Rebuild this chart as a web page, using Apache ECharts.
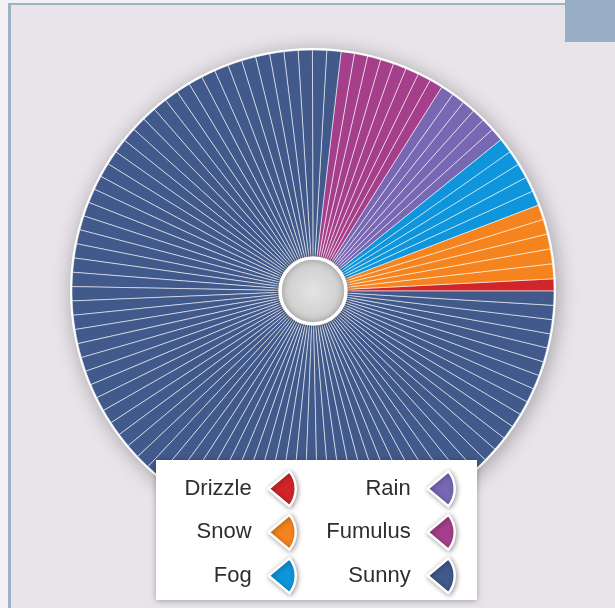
<!DOCTYPE html>
<html>
<head>
<meta charset="utf-8">
<script src="https://cdn.jsdelivr.net/npm/echarts@6/dist/echarts.min.js"></script>
<style>
html,body{margin:0;padding:0;background:#f3f1f4;}
#main{width:615px;height:608px;}
</style>
</head>
<body>
<div id="main"></div>
<script>
// Categories (legend order) and colours
const categories = ['Drizzle', 'Snow', 'Fog', 'Rain', 'Fumulus', 'Sunny'];
const colors = ['#cf252b', '#f5841f', '#0e95db', '#7868b4', '#a53f8b', '#415a8b'];

// Per-slice values (each thin wedge is one item)
const drizzle = [2.9];
const snow = [3.6, 3.6, 3.6, 3.6, 3.6];
const fog = [3.6, 3.6, 3.6, 3.6, 3.6];
const rain = [3.15, 3.15, 3.15, 3.15, 3.15, 3.15];
const fumulus = [3.2, 3.2, 3.2, 3.2, 3.2, 3.2, 3.2, 3.2];
const sunny = [
  3.42, 3.42, 3.42, 3.42, 3.42, 3.42, 3.42, 3.42, 3.42, 3.42,
  3.42, 3.42, 3.42, 3.42, 3.42, 3.42, 3.42, 3.42, 3.42, 3.42,
  3.42, 3.42, 3.42, 3.42, 3.42, 3.42, 3.42, 3.42, 3.42, 3.42,
  3.42, 3.42, 3.42, 3.42, 3.42, 3.42, 3.42, 3.42, 3.42, 3.42,
  3.42, 3.42, 3.42, 3.42, 3.42, 3.42, 3.42, 3.42, 3.42, 3.42,
  3.42, 3.42, 3.42, 3.42, 3.42, 3.42, 3.42, 3.42, 3.42, 3.42,
  3.42, 3.42, 3.42, 3.42, 3.42, 3.42, 3.42, 3.42, 3.42, 3.42,
  3.42, 3.42, 3.42, 3.42, 3.42, 3.42, 3.42, 3.42, 3.42, 3.42,
  3.42
];
const seriesValues = [drizzle, snow, fog, rain, fumulus, sunny];

const leftLegend = ['Drizzle', 'Snow', 'Fog'];
const rightLegend = ['Rain', 'Fumulus', 'Sunny'];

const pieData = [];
seriesValues.forEach(function (vals, ci) {
  vals.forEach(function (v) {
    pieData.push({ name: categories[ci], value: v, itemStyle: { color: colors[ci] } });
  });
});

const sectorIcon = 'path://M0,0 L76.6,-64.3 A100,100 0 0 1 76.6,64.3 Z';
const FONT = '"Liberation Sans", Arial, sans-serif';

function legendOpt(names, right) {
  return {
    data: names,
    orient: 'vertical',
    align: 'right',
    right: right,
    top: 470,
    padding: 0,
    itemWidth: 29,
    itemHeight: 35,
    itemGap: 6,
    icon: sectorIcon,
    selectedMode: false,
    z: 20,
    textStyle: { fontSize: 22, color: '#2e2e2e', fontFamily: FONT, padding: [0, 11, 0, 0] },
    itemStyle: { borderColor: '#fff', borderWidth: 2.5, shadowBlur: 5, shadowColor: 'rgba(0,0,0,0.35)', shadowOffsetX: 1, shadowOffsetY: 1 }
  };
}

const chart = echarts.init(document.getElementById('main'));
chart.setOption({
  animation: false,
  backgroundColor: '#e8e4ea',
  graphic: {
    elements: [
      { type: 'rect', z: 1, silent: true, shape: { x: 0, y: 0, width: 615, height: 3 }, style: { fill: '#f3f1f4' } },
      { type: 'rect', z: 1, silent: true, shape: { x: 0, y: 0, width: 8, height: 608 }, style: { fill: '#f3f1f4' } },
      { type: 'rect', z: 1, silent: true, shape: { x: 8, y: 3, width: 600, height: 2 }, style: { fill: '#9cb2c7' } },
      { type: 'rect', z: 1, silent: true, shape: { x: 8, y: 3, width: 3, height: 605 }, style: { fill: '#9cb2c7' } },
      { type: 'rect', z: 1, silent: true, shape: { x: 565, y: 0, width: 50, height: 42 }, style: { fill: '#98aec4' } },
      { type: 'rect', z: 10, silent: true, shape: { x: 156, y: 460, width: 321, height: 140 },
        style: { fill: '#ffffff', shadowBlur: 6, shadowColor: 'rgba(0,0,0,0.3)', shadowOffsetY: 1 } }
    ]
  },
  legend: [legendOpt(leftLegend, 318), legendOpt(rightLegend, 159)],
  series: [
    {
      name: 'rim', type: 'pie', z: 2, silent: true,
      center: [313, 291], radius: [0, 243],
      label: { show: false }, labelLine: { show: false },
      itemStyle: { color: '#ffffff', shadowBlur: 20, shadowColor: 'rgba(0,0,0,0.3)', shadowOffsetX: 2, shadowOffsetY: 3 },
      data: [{ name: 'rim', value: 1 }]
    },
    {
      name: 'Weather', type: 'pie', z: 3, silent: true,
      center: [313, 291], radius: [33, 241],
      startAngle: 0, clockwise: false,
      label: { show: false }, labelLine: { show: false },
      itemStyle: { borderColor: 'rgba(255,255,255,0.55)', borderWidth: 1 },
      data: pieData
    },
    {
      name: 'hole', type: 'pie', z: 4, silent: true,
      center: [313, 291], radius: [0, 33],
      label: { show: false }, labelLine: { show: false },
      itemStyle: {
        color: { type: 'radial', x: 0.5, y: 0.5, r: 0.5, colorStops: [{ offset: 0, color: '#e4e4e4' }, { offset: 1, color: '#cacaca' }] },
        borderColor: '#ffffff', borderWidth: 3.5,
        shadowBlur: 6, shadowColor: 'rgba(0,0,0,0.35)'
      },
      data: [{ name: 'hole', value: 1 }]
    }
  ]
});
</script>
</body>
</html>
